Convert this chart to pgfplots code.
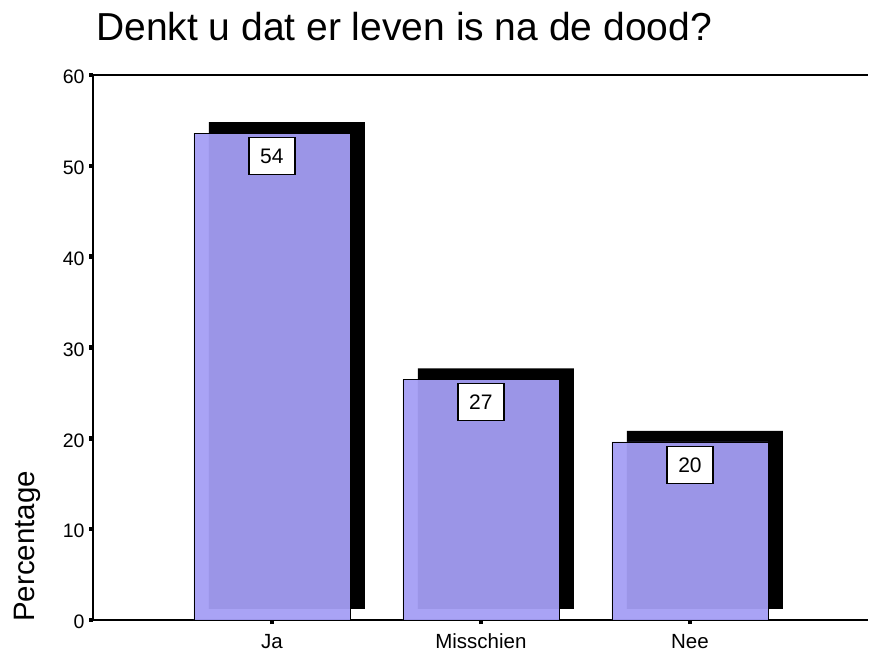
\documentclass[border=0pt]{standalone}
\usepackage{pgfplots}
\pgfplotsset{compat=1.18}
\usepackage{pgfplotstable}
\usepackage{fontspec}
\setmainfont{Liberation Sans}
\definecolor{barcol}{RGB}{164,158,244}

\pgfplotstableread{
x y label
0 53.6 54
1 26.5 27
2 19.6 20
}\datatable

\begin{document}
\begin{tikzpicture}
\useasboundingbox (0,0) rectangle (869bp,654bp);
\node[anchor=base west, font=\fontsize{39bp}{40bp}\selectfont, inner sep=0pt] at (96bp,613bp) {Denkt u dat er leven is na de dood?};
\node[rotate=90, anchor=base west, font=\fontsize{29.5bp}{30bp}\selectfont, inner sep=0pt] at (34bp,32bp) {Percentage};
\begin{axis}[
  at={(93bp,34bp)}, anchor=south west,
  scale only axis, width=775bp, height=545bp,
  xmin=-0.856, xmax=2.852, ymin=0, ymax=60,
  axis lines*=left,
  axis line style={line width=2bp},
  xtick={0,1,2}, xticklabels={Ja,Misschien,Nee},
  ytick={0,10,20,30,40,50,60},
  tick align=outside,
  major tick length=4bp,
  every tick/.style={black, line width=4.5bp},
  /pgf/number format/assume math mode=true,
  yticklabel style={font=\fontsize{19.5bp}{21bp}\selectfont, xshift=-1bp, yshift=-2bp},
  xticklabel style={font=\fontsize{20.5bp}{22bp}\selectfont, text height=15bp, text depth=0pt, yshift=-6bp},
  clip=false,
]
\addplot[ybar, bar width=156bp, bar shift=0pt, fill=black, draw=none, xshift=15bp, yshift=11bp] table[x=x,y=y]{\datatable};
\addplot[ybar, bar width=156bp, bar shift=0pt, fill=barcol, fill opacity=0.95, draw=black, line width=0.8bp,
  nodes near coords, point meta=explicit symbolic,
  nodes near coords style={anchor=north, yshift=-4bp, draw=black, line width=1.2bp, fill=white, fill opacity=1, text opacity=1, draw opacity=1, minimum width=46bp, minimum height=37bp, inner sep=0pt, font=\fontsize{21bp}{22bp}\selectfont, text=black}]
  table[x=x,y=y,meta=label]{\datatable};
\draw[line width=2bp] (rel axis cs:0,1) -- (rel axis cs:1,1);
\end{axis}
\end{tikzpicture}
\end{document}
